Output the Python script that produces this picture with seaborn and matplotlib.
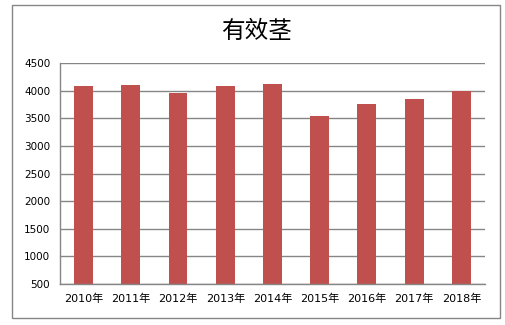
import matplotlib
matplotlib.use("Agg")
import matplotlib.pyplot as plt
import seaborn as sns
import pandas as pd
from matplotlib.patches import Rectangle

years = ["2010年", "2011年", "2012年", "2013年", "2014年", "2015年", "2016年", "2017年", "2018年"]
values = [4090, 4105, 3960, 4090, 4125, 3545, 3760, 3850, 3995]
title = "有效茎"

sns.set_theme(style="white")
plt.rcParams['font.family'] = ['DejaVu Sans', 'Noto Sans CJK SC']

df = pd.DataFrame({"year": years, "value": values})

fig = plt.figure(figsize=(5.06, 3.25), dpi=100)
ax = fig.add_axes([60/506, 1-284/325, (485-60)/506, (284-63.3)/325])

sns.barplot(data=df, x="year", y="value", color="#C0504D", saturation=1, width=0.4,
            linewidth=0, edgecolor="none", ax=ax)

ax.set_ylim(500, 4500)
ax.set_xlim(-0.5, len(years)-0.5)
ax.set_yticks(range(500, 4501, 500))
ax.yaxis.grid(True, color="#868686", linewidth=1)
ax.set_axisbelow(True)
ax.set_xlabel("")
ax.set_ylabel("")

for s in ["top", "right"]:
    ax.spines[s].set_visible(False)
for s in ["left", "bottom"]:
    ax.spines[s].set_color("#868686")
    ax.spines[s].set_linewidth(1)

ax.set_xticks([i for i in range(len(years))])
ax.set_xticklabels(years, fontsize=8, color="black")
ax.tick_params(axis="x", which="major", length=0, pad=7)
ax.set_xticks([i - 0.5 for i in range(len(years) + 1)], minor=True)
ax.tick_params(axis="x", which="minor", length=5, color="#868686", width=1, direction="out")
ax.tick_params(axis="y", length=4, color="#868686", width=1, labelsize=7.5, pad=3, labelcolor="black")

fig.text(256/506, 1-32/325, title, ha="center", va="center", fontsize=17, color="black",
         family=['Noto Sans CJK SC'])

fig.patches.append(Rectangle((12/506, 1-318/325), (500-12)/506, (318-5)/325,
                             transform=fig.transFigure, fill=False, edgecolor="#868686", linewidth=1))

fig.savefig("out.png", dpi=100)
